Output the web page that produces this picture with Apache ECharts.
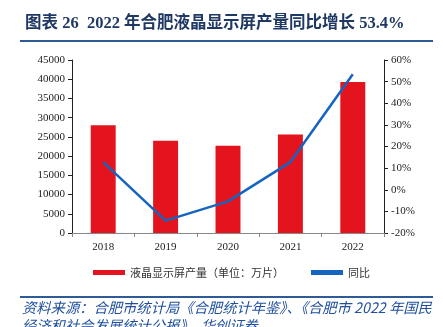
<!DOCTYPE html>
<html><head><meta charset="utf-8">
<script src="https://cdn.jsdelivr.net/npm/echarts@6/dist/echarts.min.js"></script>
<style>html,body{margin:0;padding:0;background:#fff;}#c{width:443px;height:327px;}</style>
</head><body><div id="c"></div>
<script>
const categories = ['2018', '2019', '2020', '2021', '2022'];
const output = [28000, 24000, 22700, 25600, 39300];
const yoy = [12.8, -14.3, -5.4, 12.8, 53.4];
const titleText = '图表 26  2022 年合肥液晶显示屏产量同比增长 53.4%';
const sourceLine1 = '资料来源：合肥市统计局《合肥统计年鉴》、《合肥市 2022 年国民';
const sourceLine2 = '经济和社会发展统计公报》，华创证券';

const chart = echarts.init(document.getElementById('c'));
const serif = '"Liberation Serif","Times New Roman",serif';
chart.setOption({
  animation: false,
  backgroundColor: '#fff',
  title: {
    text: titleText, left: 20, top: 10,
    textStyle: {fontSize: 16.5, fontWeight: 'bold', color: '#1f3864', fontFamily: '"Liberation Serif","Noto Sans CJK SC",serif'}
  },
  grid: {left: 72, right: 59, top: 60, bottom: 94},
  legend: {
    bottom: 44, left: 88, itemGap: 27,
    textStyle: {fontSize: 11, color: '#333', fontFamily: '"Noto Sans CJK SC",sans-serif'},
    data: [
      {name: '液晶显示屏产量（单位：万片）', icon: 'rect', itemStyle: {color: '#e3141d'}},
      {name: '同比', icon: 'rect', itemStyle: {color: '#1565c0'}}
    ],
    itemWidth: 32, itemHeight: 5
  },
  xAxis: {
    type: 'category', data: categories,
    axisLine: {lineStyle: {color: '#888', width: 1}},
    axisTick: {show: true, alignWithLabel: false, length: 4, lineStyle: {color: '#888'}},
    axisLabel: {fontFamily: serif, fontSize: 11, color: '#222', margin: 9}
  },
  yAxis: [
    {
      type: 'value', min: 0, max: 45000, interval: 5000,
      axisLine: {show: true, lineStyle: {color: '#222'}},
      axisTick: {show: true, length: 4, lineStyle: {color: '#222'}},
      splitLine: {show: false},
      axisLabel: {fontFamily: serif, fontSize: 11, color: '#222', margin: 7, formatter: function (v) { return String(v); }}
    },
    {
      type: 'value', min: -20, max: 60, interval: 10,
      axisLine: {show: true, lineStyle: {color: '#222'}},
      axisTick: {show: true, length: 4, lineStyle: {color: '#222'}},
      splitLine: {show: false},
      axisLabel: {fontFamily: serif, fontSize: 11, color: '#222', margin: 7, formatter: '{value}%'}
    }
  ],
  series: [
    {
      name: '液晶显示屏产量（单位：万片）', type: 'bar', data: output, barWidth: '40%',
      itemStyle: {color: '#e3141d'}
    },
    {
      name: '同比', type: 'line', yAxisIndex: 1, data: yoy, symbol: 'none',
      lineStyle: {color: '#1565c0', width: 2.5}, itemStyle: {color: '#1565c0'}
    }
  ],
  graphic: [
    {type: 'rect', shape: {x: 20, y: 40, width: 413, height: 2}, style: {fill: '#2e5a96'}},
    {type: 'rect', shape: {x: 20, y: 296, width: 413, height: 2}, style: {fill: '#2e5a96'}},
    {type: 'text', left: 22, top: 300, style: {text: sourceLine1, fontSize: 14.3, fontStyle: 'italic', fill: '#1f4f9e', fontFamily: '"Noto Sans CJK SC",sans-serif'}},
    {type: 'text', left: 22, top: 318, style: {text: sourceLine2, fontSize: 14.3, fontStyle: 'italic', fill: '#1f4f9e', fontFamily: '"Noto Sans CJK SC",sans-serif'}}
  ]
});
</script></body></html>
